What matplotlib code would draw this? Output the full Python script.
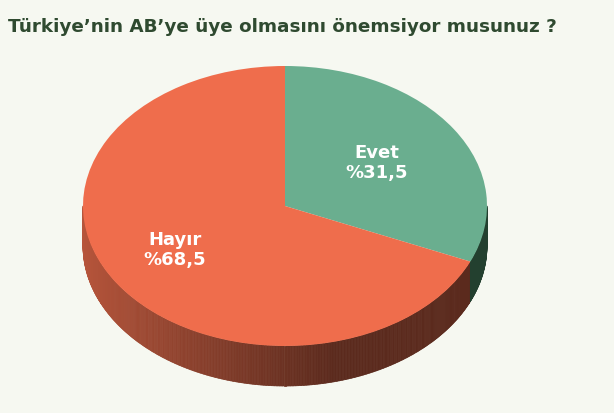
import numpy as np
import matplotlib
matplotlib.use('Agg')
import matplotlib.pyplot as plt
from matplotlib.collections import PolyCollection
from matplotlib.colors import to_rgb

title = 'Türkiye’nin AB’ye üye olmasını önemsiyor musunuz ?'
labels = ['Evet', 'Hayır']
values = [31.5, 68.5]
top_colors = ['#6aae8f', '#ef6d4c']
side_light = ['#3f6e58', '#b7553b']
side_dark = ['#23402f', '#5b2a1d']

# ellipse geometry in pixels
cx, cy = 285, 206
rx, ry = 202, 140
depth = 40 / ry

fig = plt.figure(figsize=(6.14, 4.13), dpi=100)
fig.patch.set_facecolor('#f6f8f1')
ax = fig.add_axes([0, 0, 1, 1])
ax.set_facecolor('#f6f8f1')

# slice angles (clockwise from 90 deg)
fracs = np.array(values) / sum(values)
starts = 90 - 360 * np.concatenate([[0], np.cumsum(fracs)[:-1]])
ends = starts - 360 * fracs

# side wall, visible front half (180..360 deg)
polys, cols = [], []
steps = np.linspace(180, 360, 400)
for a0, a1 in zip(steps[:-1], steps[1:]):
    mid = (a0 + a1) / 2
    idx = 1
    for i in range(len(values)):
        m = mid
        while m > starts[i]:
            m -= 360
        if m >= ends[i]:
            idx = i
    t0, t1 = np.radians(a0), np.radians(a1)
    p = [(np.cos(t0), np.sin(t0)), (np.cos(t1), np.sin(t1)),
         (np.cos(t1), np.sin(t1) - depth), (np.cos(t0), np.sin(t0) - depth)]
    polys.append(p)
    f = (np.cos(np.radians(mid)) + 1) / 2
    f = min(1.0, f * 1.6) ** 0.9
    c = (1 - f) * np.array(to_rgb(side_light[idx])) + f * np.array(to_rgb(side_dark[idx]))
    cols.append(c)
ax.add_collection(PolyCollection(polys, facecolors=cols, edgecolors=cols, linewidths=0.5))

wedges, _ = ax.pie(values, colors=top_colors, startangle=90, counterclock=False,
                   radius=1, wedgeprops=dict(linewidth=0))

ax.set_aspect('auto')
ax.set_xlim(-cx / rx, (614 - cx) / rx)
ax.set_ylim((cy - 413) / ry, cy / ry)
ax.axis('off')

label_pos = [(377, 163), (175, 250)]
for lab, v, (px, py) in zip(labels, values, label_pos):
    ax.text((px - cx) / rx, (cy - py) / ry, f'{lab}\n%{v:.1f}'.replace('.', ','),
            ha='center', va='center', color='white', fontsize=13,
            fontweight='bold', linespacing=1.15)

fig.text(8 / 614, 1 - 27 / 413, title, ha='left', va='center',
         fontsize=13.2, fontweight='bold', color='#2f4a30')

fig.savefig('out.png', dpi=100, facecolor=fig.get_facecolor())
